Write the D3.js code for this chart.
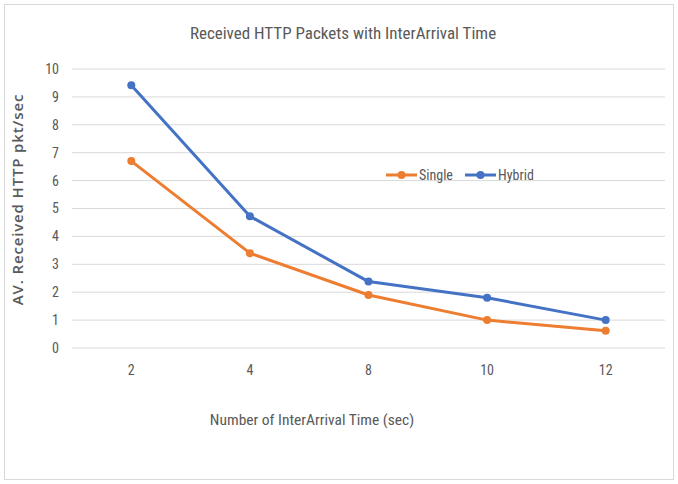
<!DOCTYPE html>
<html>
<head>
<meta charset="utf-8">
<script src="https://cdn.jsdelivr.net/npm/d3@7"></script>
<style>
  html, body { margin: 0; padding: 0; background: #fff; }
  svg { display: block; }
</style>
</head>
<body>
<div id="chart"></div>
<script>
// Inter-arrival times (categorical x axis)
const categories = ["2", "4", "8", "10", "12"];
// Average received HTTP packets per second
const singleValues = [6.7, 3.4, 1.9, 1.0, 0.62];
const hybridValues = [9.42, 4.72, 2.38, 1.8, 1.0];
const yTicks = [0, 1, 2, 3, 4, 5, 6, 7, 8, 9, 10];
const seriesNames = ["Single", "Hybrid"];

const W = 678, H = 484;
const font = "'Liberation Sans Narrow', 'Roboto Condensed', 'Roboto', sans-serif";
const textColor = "#595959";
const colors = { Single: "#ED7D31", Hybrid: "#4472C4" };

const svg = d3.select("#chart").append("svg").attr("width", W).attr("height", H);

// Chart frame
svg.append("rect").attr("x", 4.5).attr("y", 4.5).attr("width", W - 9).attr("height", H - 9)
  .attr("fill", "#fff").attr("stroke", "#d9d9d9").attr("stroke-width", 1);

const x = d3.scaleBand().domain(categories).range([72, 665]);
const y = d3.scaleLinear().domain([0, 10]).range([348, 69]);

// Horizontal gridlines
svg.append("g").selectAll("line").data(yTicks).join("line")
  .attr("x1", 72).attr("x2", 665)
  .attr("y1", d => y(d)).attr("y2", d => y(d))
  .attr("stroke", "#d9d9d9").attr("stroke-width", 1);

// Y axis tick labels
svg.append("g").selectAll("text").data(yTicks).join("text")
  .attr("x", 59).attr("y", d => y(d)).attr("dy", "0.35em")
  .attr("text-anchor", "end").attr("font-family", font).attr("font-size", 14)
  .attr("fill", textColor).text(d => d);

// X axis tick labels
svg.append("g").selectAll("text").data(categories).join("text")
  .attr("x", d => x(d) + x.bandwidth() / 2).attr("y", 370).attr("dy", "0.35em")
  .attr("text-anchor", "middle").attr("font-family", font).attr("font-size", 14)
  .attr("fill", textColor).text(d => d);

// Title
svg.append("text").attr("x", 343).attr("y", 33).attr("dy", "0.35em")
  .attr("text-anchor", "middle").attr("font-family", font).attr("font-size", 17)
  .attr("fill", textColor).text("Received HTTP Packets with InterArrival Time");

// Axis titles
svg.append("text").attr("x", 312).attr("y", 420).attr("dy", "0.35em")
  .attr("text-anchor", "middle").attr("font-family", font).attr("font-size", 15.5)
  .attr("fill", textColor).text("Number of InterArrival Time (sec)");

svg.append("text").attr("transform", "translate(18,199.5) rotate(-90)").attr("dy", "0.35em")
  .attr("text-anchor", "middle").attr("font-family", "'Open Sans', 'DejaVu Sans', sans-serif")
  .attr("font-size", 15).attr("font-weight", 600).attr("letter-spacing", 0.85)
  .attr("fill", textColor).text("AV. Received HTTP pkt/sec");

// Series
const series = [
  { name: "Single", values: singleValues },
  { name: "Hybrid", values: hybridValues }
];
const line = d3.line().x((d, i) => x(categories[i]) + x.bandwidth() / 2).y(d => y(d));

series.forEach(s => {
  const g = svg.append("g");
  g.append("path").datum(s.values).attr("d", line)
    .attr("fill", "none").attr("stroke", colors[s.name]).attr("stroke-width", 3)
    .attr("stroke-linejoin", "round").attr("stroke-linecap", "round");
  g.selectAll("circle").data(s.values).join("circle")
    .attr("cx", (d, i) => x(categories[i]) + x.bandwidth() / 2).attr("cy", d => y(d))
    .attr("r", 4).attr("fill", colors[s.name]);
});

// Legend
const legendX = [386, 465];
const legend = svg.append("g");
seriesNames.forEach((name, i) => {
  const lx = legendX[i], ly = 175;
  legend.append("line").attr("x1", lx).attr("x2", lx + 31).attr("y1", ly).attr("y2", ly)
    .attr("stroke", colors[name]).attr("stroke-width", 3);
  legend.append("circle").attr("cx", lx + 15.5).attr("cy", ly).attr("r", 4).attr("fill", colors[name]);
  legend.append("text").attr("x", lx + 33).attr("y", ly).attr("dy", "0.35em")
    .attr("font-family", font).attr("font-size", 14).attr("fill", textColor).text(name);
});
</script>
</body>
</html>
